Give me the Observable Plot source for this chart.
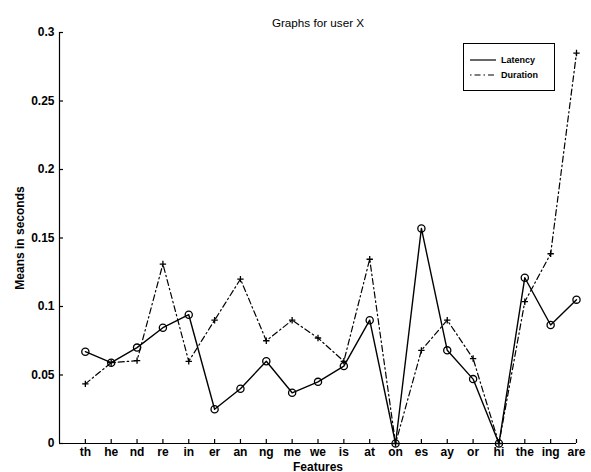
<!DOCTYPE html>
<html>
<head>
<meta charset="utf-8">
<script src="https://cdn.jsdelivr.net/npm/d3@7"></script>
<script src="https://cdn.jsdelivr.net/npm/@observablehq/plot@0.6"></script>
<style>
  body { margin: 0; background: #fff; }
  #wrap { position: relative; width: 591px; height: 472px; font-family: "Liberation Sans", Arial, sans-serif; }
  #legend { position: absolute; left: 463px; top: 43px; width: 90px; height: 46px; border: 1px solid #000; background: #fff; font-size: 9px; font-weight: bold; }
  .row { position: absolute; left: 6px; display: flex; align-items: center; }
  .row span { margin-left: 5px; }
</style>
</head>
<body>
<div id="wrap">
  <div id="chart"></div>
  <div id="legend">
    <div class="row" style="top:11px"><svg width="26" height="6"><line x1="0" y1="3" x2="26" y2="3" stroke="#000" stroke-width="1.2"/></svg><span>Latency</span></div>
    <div class="row" style="top:26px"><svg width="26" height="6"><line x1="0" y1="3" x2="26" y2="3" stroke="#000" stroke-width="1.2" stroke-dasharray="1.5,3,6,3"/></svg><span>Duration</span></div>
  </div>
</div>
<script>
const features = ["th","he","nd","re","in","er","an","ng","me","we","is","at","on","es","ay","or","hi","the","ing","are"];
const latency  = [0.067,0.059,0.070,0.0845,0.094,0.025,0.040,0.060,0.037,0.045,0.0565,0.090,0,0.157,0.068,0.047,0,0.121,0.0865,0.105];
const duration = [0.0435,0.059,0.0605,0.131,0.060,0.090,0.120,0.075,0.090,0.077,0.060,0.1345,0,0.068,0.090,0.062,0,0.1035,0.1385,0.285];
const yTicks = [0,0.05,0.1,0.15,0.2,0.25,0.3];
const xTicks = d3.range(1, features.length + 1);

const latData = features.map((f, i) => ({i: i + 1, v: latency[i]}));
const durData = features.map((f, i) => ({i: i + 1, v: duration[i]}));

const cross = {
  draw(ctx, size) {
    const r = Math.sqrt(size / Math.PI);
    ctx.moveTo(-r, 0); ctx.lineTo(r, 0);
    ctx.moveTo(0, -r); ctx.lineTo(0, r);
  }
};

const W = 591, H = 472, mL = 59, mR = 15, mT = 32, mB = 29, tick = 4;

const chart = Plot.plot({
  width: W,
  height: H,
  marginLeft: mL,
  marginRight: mR,
  marginTop: mT,
  marginBottom: mB,
  style: {fontFamily: "'Liberation Sans', Arial, sans-serif", background: "#fff", color: "#000"},
  x: {domain: [0, features.length]},
  y: {domain: [0, 0.3]},
  marks: [
    Plot.axisY({ticks: yTicks, tickSize: 0, tickPadding: 5, tickFormat: d => String(d), fontSize: 12, fontWeight: "bold",
      label: "Means in seconds", labelAnchor: "center", labelArrow: "none", labelOffset: 44}),
    Plot.axisX({ticks: xTicks, tickSize: 0, tickPadding: 4, tickFormat: d => features[d - 1], fontSize: 12, fontWeight: "bold",
      label: "Features", labelAnchor: "center", labelArrow: "none", labelOffset: 27}),
    Plot.tickX(xTicks, {x: d => d, insetTop: H - mT - mB - tick, stroke: "#000", strokeWidth: 1.2}),
    Plot.tickY(yTicks, {y: d => d, insetRight: W - mL - mR - tick, stroke: "#000", strokeWidth: 1.2}),
    Plot.ruleX([0], {stroke: "#000", strokeWidth: 1.2}),
    Plot.ruleY([0], {stroke: "#000", strokeWidth: 1.2}),
    Plot.line(durData, {x: "i", y: "v", stroke: "#000", strokeWidth: 1.2, strokeDasharray: "6,3,1.5,3"}),
    Plot.line(latData, {x: "i", y: "v", stroke: "#000", strokeWidth: 1.4}),
    Plot.dot(latData, {x: "i", y: "v", r: 3.6, stroke: "#000", strokeWidth: 1.3, fill: "none"}),
    Plot.dot(durData, {x: "i", y: "v", r: 3.2, symbol: cross, stroke: "#000", strokeWidth: 1.3, fill: "none"}),
    Plot.text(["Graphs for user X"], {frameAnchor: "top", dy: -14, fontSize: 11.7})
  ]
});
document.getElementById("chart").appendChild(chart);
</script>
</body>
</html>
